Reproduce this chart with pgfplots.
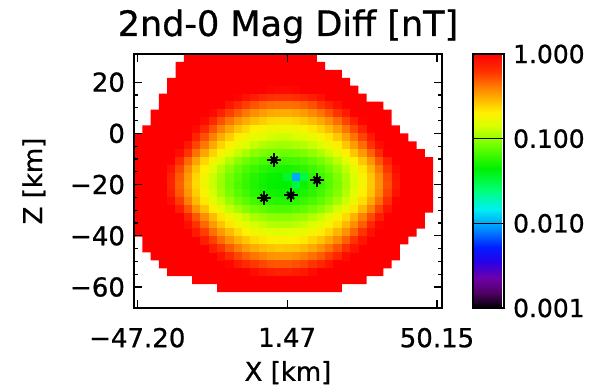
\documentclass[border=0pt]{standalone}
\usepackage{pgfplots}
\pgfplotsset{compat=1.18}
\usepackage{fontspec}
\setmainfont{DejaVu Sans}[FakeBold=0.8]
\pgfdeclareplotmark{cell}{\pgfpathrectangle{\pgfpoint{-2.16pt}{-2.07pt}}{\pgfpoint{4.32pt}{4.14pt}}\pgfusepathqfill}
\definecolor{idlred}{RGB}{255,0,0}
\begin{document}
\begin{tikzpicture}
\useasboundingbox (-67pt,-40.5pt) rectangle (236pt,154pt);
\begin{axis}[
 at={(0pt,0pt)}, anchor=south west,
 scale only axis, width=154pt, height=127pt,
 xmin=-48.27, xmax=51.77, ymin=-68.2, ymax=31,
 axis on top,
 xtick={-47.20,1.47,50.15}, xticklabels={−47.20,1.47,50.15},
 ytick={-60,-40,-20,0,20}, yticklabels={−60,−40,−20,0,20},
 minor y tick num=3, minor x tick num=0,
 tick align=inside,
 major tick length=4pt, minor tick length=2.2pt,
 tick style={black, line width=0.6pt},
 axis line style={black, line width=0.75pt},
 ticklabel style={font=\fontsize{13}{15}\selectfont},
 xticklabel style={yshift=-6.4pt},
 yticklabel style={xshift=-1pt},
 xlabel={X [km]}, ylabel={Z [km]},
 label style={font=\fontsize{13}{15}\selectfont},
 xlabel style={at={(axis description cs:0.5,0)}, anchor=north, yshift=-23pt},
 ylabel style={at={(axis description cs:-0.325,0.5)}, anchor=center},
 title={2nd-0 Mag Diff [nT]},
 title style={font=\fontsize{17.5}{20}\selectfont, at={(axis description cs:0.5,1)}, anchor=base, yshift=3pt},
 colormap={idl}{rgb255(0pt)=(0,0,0); rgb255(18pt)=(80,0,100); rgb255(36pt)=(110,0,170); rgb255(54pt)=(40,0,230); rgb255(72pt)=(0,30,255); rgb255(93pt)=(0,140,255); rgb255(117pt)=(0,240,240); rgb255(141pt)=(0,255,110); rgb255(165pt)=(0,240,0); rgb255(192pt)=(110,255,0); rgb255(216pt)=(220,255,0); rgb255(231pt)=(255,240,0); rgb255(255pt)=(255,150,0); rgb255(279pt)=(255,50,0); rgb255(300pt)=(255,0,0)},
 point meta min=-3, point meta max=0,
 colorbar,
 colorbar style={
   at={(parent axis.north east)}, anchor=north west, xshift=7pt,
   scale only axis, width=15.5pt, height=127pt,
   ytick={-3,-2,-1,0}, yticklabels={0.001,0.010,0.100,1.000},
   ytick pos=right, yticklabel pos=right,
   major tick length=15.5pt, tick align=inside,
   ytick style={black, line width=0.7pt},
   axis line style={black, line width=0.75pt},
   yticklabel style={font=\fontsize{12.5}{15}\selectfont, xshift=1pt},
   minor y tick num=0,
 },
]
% data extent (cells with value >= 1 nT, saturated red)
\addplot[fill=idlred, draw=none] coordinates {
(-32.07,31) (11.13,31) (11.13,27.9) (13.83,27.9) (13.83,24.8) (19.23,24.8) (19.23,21.7) (21.93,21.7) (21.93,18.6) (24.63,18.6) (24.63,15.5) (27.33,15.5) (27.33,12.4) (32.73,12.4) (32.73,9.3) (35.43,9.3) (35.43,3.1) (38.13,3.1) (38.13,0) (40.83,0) (40.83,-3.1) (43.53,-3.1) (43.53,-6.2) (46.23,-6.2) (46.23,-9.3) (48.93,-9.3) (48.93,-31) (46.23,-31) (46.23,-37.2) (43.53,-37.2) (43.53,-40.3) (40.83,-40.3) (40.83,-43.4) (38.13,-43.4) (38.13,-49.6) (35.43,-49.6) (35.43,-52.7) (32.73,-52.7) (32.73,-55.8) (27.33,-55.8) (27.33,-58.9) (19.23,-58.9) (19.23,-62) (-21.27,-62) (-21.27,-58.9) (-29.37,-58.9) (-29.37,-55.8) (-37.47,-55.8) (-37.47,-52.7) (-40.17,-52.7) (-40.17,-49.6) (-42.87,-49.6) (-42.87,-46.5) (-45.57,-46.5) (-45.57,-40.3) (-48.27,-40.3) (-48.27,0) (-45.57,0) (-45.57,3.1) (-42.87,3.1) (-42.87,9.3) (-40.17,9.3) (-40.17,15.5) (-37.47,15.5) (-37.47,21.7) (-34.77,21.7) (-34.77,27.9) (-32.07,27.9)
};
% cells below 1 nT: x z log10(diff)
\addplot[scatter, only marks, mark=cell, point meta=explicit, scatter/use mapped color={fill=mapped color, draw=mapped color}] table[meta=c, row sep=\\] {
x y c\\
-6.42 17.05 -0.01\\ -3.72 17.05 -0.03\\ -1.02 17.05 -0.04\\ 1.68 17.05 -0.04\\ 4.38 17.05 -0.03\\
-14.52 13.95 -0.02\\ -11.82 13.95 -0.08\\ -9.12 13.95 -0.13\\ -6.42 13.95 -0.17\\ -3.72 13.95 -0.20\\ -1.02 13.95 -0.21\\ 1.68 13.95 -0.21\\ 4.38 13.95 -0.19\\ 7.08 13.95 -0.16\\ 9.78 13.95 -0.12\\ 12.48 13.95 -0.07\\
-17.22 10.85 -0.09\\ -14.52 10.85 -0.17\\ -11.82 10.85 -0.24\\ -9.12 10.85 -0.29\\ -6.42 10.85 -0.33\\ -3.72 10.85 -0.35\\ -1.02 10.85 -0.36\\ 1.68 10.85 -0.36\\ 4.38 10.85 -0.35\\ 7.08 10.85 -0.32\\ 9.78 10.85 -0.28\\ 12.48 10.85 -0.22\\ 15.18 10.85 -0.15\\ 17.88 10.85 -0.07\\
-22.62 7.75 -0.04\\ -19.92 7.75 -0.14\\ -17.22 7.75 -0.24\\ -14.52 7.75 -0.31\\ -11.82 7.75 -0.38\\ -9.12 7.75 -0.43\\ -6.42 7.75 -0.47\\ -3.72 7.75 -0.50\\ -1.02 7.75 -0.51\\ 1.68 7.75 -0.51\\ 4.38 7.75 -0.49\\ 7.08 7.75 -0.46\\ 9.78 7.75 -0.42\\ 12.48 7.75 -0.37\\ 15.18 7.75 -0.30\\ 17.88 7.75 -0.21\\ 20.58 7.75 -0.12\\ 23.28 7.75 -0.01\\
-25.32 4.65 -0.05\\ -22.62 4.65 -0.17\\ -19.92 4.65 -0.28\\ -17.22 4.65 -0.37\\ -14.52 4.65 -0.45\\ -11.82 4.65 -0.51\\ -9.12 4.65 -0.56\\ -6.42 4.65 -0.60\\ -3.72 4.65 -0.63\\ -1.02 4.65 -0.64\\ 1.68 4.65 -0.64\\ 4.38 4.65 -0.62\\ 7.08 4.65 -0.59\\ 9.78 4.65 -0.55\\ 12.48 4.65 -0.50\\ 15.18 4.65 -0.43\\ 17.88 4.65 -0.35\\ 20.58 4.65 -0.25\\ 23.28 4.65 -0.14\\ 25.98 4.65 -0.02\\
-28.02 1.55 -0.04\\ -25.32 1.55 -0.17\\ -22.62 1.55 -0.29\\ -19.92 1.55 -0.40\\ -17.22 1.55 -0.49\\ -14.52 1.55 -0.57\\ -11.82 1.55 -0.63\\ -9.12 1.55 -0.69\\ -6.42 1.55 -0.72\\ -3.72 1.55 -0.75\\ -1.02 1.55 -0.76\\ 1.68 1.55 -0.76\\ 4.38 1.55 -0.74\\ 7.08 1.55 -0.72\\ 9.78 1.55 -0.67\\ 12.48 1.55 -0.62\\ 15.18 1.55 -0.55\\ 17.88 1.55 -0.47\\ 20.58 1.55 -0.37\\ 23.28 1.55 -0.26\\ 25.98 1.55 -0.14\\ 28.68 1.55 -0.01\\
-28.02 -1.55 -0.15\\ -25.32 -1.55 -0.28\\ -22.62 -1.55 -0.40\\ -19.92 -1.55 -0.51\\ -17.22 -1.55 -0.60\\ -14.52 -1.55 -0.68\\ -11.82 -1.55 -0.74\\ -9.12 -1.55 -0.79\\ -6.42 -1.55 -0.83\\ -3.72 -1.55 -0.86\\ -1.02 -1.55 -0.87\\ 1.68 -1.55 -0.87\\ 4.38 -1.55 -0.85\\ 7.08 -1.55 -0.83\\ 9.78 -1.55 -0.78\\ 12.48 -1.55 -0.73\\ 15.18 -1.55 -0.66\\ 17.88 -1.55 -0.58\\ 20.58 -1.55 -0.48\\ 23.28 -1.55 -0.37\\ 25.98 -1.55 -0.25\\ 28.68 -1.55 -0.11\\
-30.72 -4.65 -0.10\\ -28.02 -4.65 -0.25\\ -25.32 -4.65 -0.38\\ -22.62 -4.65 -0.50\\ -19.92 -4.65 -0.61\\ -17.22 -4.65 -0.70\\ -14.52 -4.65 -0.78\\ -11.82 -4.65 -0.84\\ -9.12 -4.65 -0.89\\ -6.42 -4.65 -0.93\\ -3.72 -4.65 -0.96\\ -1.02 -4.65 -0.97\\ 1.68 -4.65 -0.97\\ 4.38 -4.65 -0.95\\ 7.08 -4.65 -0.92\\ 9.78 -4.65 -0.88\\ 12.48 -4.65 -0.83\\ 15.18 -4.65 -0.76\\ 17.88 -4.65 -0.68\\ 20.58 -4.65 -0.58\\ 23.28 -4.65 -0.47\\ 25.98 -4.65 -0.35\\ 28.68 -4.65 -0.21\\ 31.38 -4.65 -0.06\\
-33.42 -7.75 -0.06\\ -30.72 -7.75 -0.21\\ -28.02 -7.75 -0.36\\ -25.32 -7.75 -0.49\\ -22.62 -7.75 -0.61\\ -19.92 -7.75 -0.72\\ -17.22 -7.75 -0.81\\ -14.52 -7.75 -0.89\\ -11.82 -7.75 -0.95\\ -9.12 -7.75 -1.01\\ -6.42 -7.75 -1.05\\ -3.72 -7.75 -1.07\\ -1.02 -7.75 -1.08\\ 1.68 -7.75 -1.08\\ 4.38 -7.75 -1.07\\ 7.08 -7.75 -1.04\\ 9.78 -7.75 -1.00\\ 12.48 -7.75 -0.94\\ 15.18 -7.75 -0.87\\ 17.88 -7.75 -0.79\\ 20.58 -7.75 -0.69\\ 23.28 -7.75 -0.58\\ 25.98 -7.75 -0.46\\ 28.68 -7.75 -0.33\\ 31.38 -7.75 -0.18\\ 34.08 -7.75 -0.01\\
-36.12 -10.85 -0.01\\ -33.42 -10.85 -0.18\\ -30.72 -10.85 -0.34\\ -28.02 -10.85 -0.48\\ -25.32 -10.85 -0.62\\ -22.62 -10.85 -0.74\\ -19.92 -10.85 -0.84\\ -17.22 -10.85 -0.93\\ -14.52 -10.85 -1.01\\ -11.82 -10.85 -1.08\\ -9.12 -10.85 -1.13\\ -6.42 -10.85 -1.17\\ -3.72 -10.85 -1.19\\ -1.02 -10.85 -1.20\\ 1.68 -10.85 -1.20\\ 4.38 -10.85 -1.19\\ 7.08 -10.85 -1.16\\ 9.78 -10.85 -1.12\\ 12.48 -10.85 -1.06\\ 15.18 -10.85 -0.99\\ 17.88 -10.85 -0.91\\ 20.58 -10.85 -0.82\\ 23.28 -10.85 -0.71\\ 25.98 -10.85 -0.58\\ 28.68 -10.85 -0.45\\ 31.38 -10.85 -0.30\\ 34.08 -10.85 -0.14\\
-36.12 -13.95 -0.09\\ -33.42 -13.95 -0.26\\ -30.72 -13.95 -0.42\\ -28.02 -13.95 -0.57\\ -25.32 -13.95 -0.70\\ -22.62 -13.95 -0.82\\ -19.92 -13.95 -0.93\\ -17.22 -13.95 -1.02\\ -14.52 -13.95 -1.10\\ -11.82 -13.95 -1.16\\ -9.12 -13.95 -1.21\\ -6.42 -13.95 -1.25\\ -3.72 -13.95 -1.28\\ -1.02 -13.95 -1.29\\ 1.68 -13.95 -1.29\\ 4.38 -13.95 -1.27\\ 7.08 -13.95 -1.24\\ 9.78 -13.95 -1.20\\ 12.48 -13.95 -1.15\\ 15.18 -13.95 -1.08\\ 17.88 -13.95 -1.00\\ 20.58 -13.95 -0.90\\ 23.28 -13.95 -0.79\\ 25.98 -13.95 -0.67\\ 28.68 -13.95 -0.53\\ 31.38 -13.95 -0.38\\ 34.08 -13.95 -0.22\\ 36.78 -13.95 -0.05\\
-36.12 -17.05 -0.14\\ -33.42 -17.05 -0.31\\ -30.72 -17.05 -0.47\\ -28.02 -17.05 -0.62\\ -25.32 -17.05 -0.75\\ -22.62 -17.05 -0.87\\ -19.92 -17.05 -0.97\\ -17.22 -17.05 -1.07\\ -14.52 -17.05 -1.14\\ -11.82 -17.05 -1.21\\ -9.12 -17.05 -1.26\\ -6.42 -17.05 -1.30\\ -3.72 -17.05 -1.33\\ -1.02 -17.05 -1.34\\ 1.68 -17.05 -1.45\\ 4.38 -17.05 -2.00\\ 7.08 -17.05 -1.50\\ 9.78 -17.05 -1.25\\ 12.48 -17.05 -1.20\\ 15.18 -17.05 -1.13\\ 17.88 -17.05 -1.04\\ 20.58 -17.05 -0.95\\ 23.28 -17.05 -0.84\\ 25.98 -17.05 -0.72\\ 28.68 -17.05 -0.58\\ 31.38 -17.05 -0.43\\ 34.08 -17.05 -0.27\\ 36.78 -17.05 -0.09\\
-36.12 -20.15 -0.15\\ -33.42 -20.15 -0.32\\ -30.72 -20.15 -0.48\\ -28.02 -20.15 -0.63\\ -25.32 -20.15 -0.76\\ -22.62 -20.15 -0.88\\ -19.92 -20.15 -0.98\\ -17.22 -20.15 -1.08\\ -14.52 -20.15 -1.16\\ -11.82 -20.15 -1.22\\ -9.12 -20.15 -1.27\\ -6.42 -20.15 -1.31\\ -3.72 -20.15 -1.34\\ -1.02 -20.15 -1.35\\ 1.68 -20.15 -1.35\\ 4.38 -20.15 -1.48\\ 7.08 -20.15 -1.32\\ 9.78 -20.15 -1.26\\ 12.48 -20.15 -1.21\\ 15.18 -20.15 -1.14\\ 17.88 -20.15 -1.06\\ 20.58 -20.15 -0.96\\ 23.28 -20.15 -0.85\\ 25.98 -20.15 -0.73\\ 28.68 -20.15 -0.59\\ 31.38 -20.15 -0.44\\ 34.08 -20.15 -0.28\\ 36.78 -20.15 -0.10\\
-36.12 -23.25 -0.12\\ -33.42 -23.25 -0.30\\ -30.72 -23.25 -0.45\\ -28.02 -23.25 -0.60\\ -25.32 -23.25 -0.73\\ -22.62 -23.25 -0.85\\ -19.92 -23.25 -0.96\\ -17.22 -23.25 -1.05\\ -14.52 -23.25 -1.13\\ -11.82 -23.25 -1.19\\ -9.12 -23.25 -1.25\\ -6.42 -23.25 -1.29\\ -3.72 -23.25 -1.31\\ -1.02 -23.25 -1.32\\ 1.68 -23.25 -1.32\\ 4.38 -23.25 -1.31\\ 7.08 -23.25 -1.28\\ 9.78 -23.25 -1.24\\ 12.48 -23.25 -1.18\\ 15.18 -23.25 -1.11\\ 17.88 -23.25 -1.03\\ 20.58 -23.25 -0.93\\ 23.28 -23.25 -0.82\\ 25.98 -23.25 -0.70\\ 28.68 -23.25 -0.57\\ 31.38 -23.25 -0.42\\ 34.08 -23.25 -0.25\\ 36.78 -23.25 -0.08\\
-36.12 -26.35 -0.06\\ -33.42 -26.35 -0.23\\ -30.72 -26.35 -0.39\\ -28.02 -26.35 -0.54\\ -25.32 -26.35 -0.67\\ -22.62 -26.35 -0.79\\ -19.92 -26.35 -0.89\\ -17.22 -26.35 -0.99\\ -14.52 -26.35 -1.07\\ -11.82 -26.35 -1.13\\ -9.12 -26.35 -1.18\\ -6.42 -26.35 -1.22\\ -3.72 -26.35 -1.25\\ -1.02 -26.35 -1.26\\ 1.68 -26.35 -1.26\\ 4.38 -26.35 -1.24\\ 7.08 -26.35 -1.21\\ 9.78 -26.35 -1.17\\ 12.48 -26.35 -1.12\\ 15.18 -26.35 -1.05\\ 17.88 -26.35 -0.97\\ 20.58 -26.35 -0.87\\ 23.28 -26.35 -0.76\\ 25.98 -26.35 -0.64\\ 28.68 -26.35 -0.50\\ 31.38 -26.35 -0.35\\ 34.08 -26.35 -0.19\\ 36.78 -26.35 -0.01\\
-33.42 -29.45 -0.13\\ -30.72 -29.45 -0.29\\ -28.02 -29.45 -0.44\\ -25.32 -29.45 -0.57\\ -22.62 -29.45 -0.69\\ -19.92 -29.45 -0.79\\ -17.22 -29.45 -0.89\\ -14.52 -29.45 -0.96\\ -11.82 -29.45 -1.03\\ -9.12 -29.45 -1.08\\ -6.42 -29.45 -1.12\\ -3.72 -29.45 -1.15\\ -1.02 -29.45 -1.16\\ 1.68 -29.45 -1.16\\ 4.38 -29.45 -1.14\\ 7.08 -29.45 -1.11\\ 9.78 -29.45 -1.07\\ 12.48 -29.45 -1.02\\ 15.18 -29.45 -0.95\\ 17.88 -29.45 -0.86\\ 20.58 -29.45 -0.77\\ 23.28 -29.45 -0.66\\ 25.98 -29.45 -0.54\\ 28.68 -29.45 -0.40\\ 31.38 -29.45 -0.25\\ 34.08 -29.45 -0.09\\
-30.72 -32.55 -0.15\\ -28.02 -32.55 -0.30\\ -25.32 -32.55 -0.43\\ -22.62 -32.55 -0.55\\ -19.92 -32.55 -0.66\\ -17.22 -32.55 -0.75\\ -14.52 -32.55 -0.83\\ -11.82 -32.55 -0.89\\ -9.12 -32.55 -0.95\\ -6.42 -32.55 -0.98\\ -3.72 -32.55 -1.01\\ -1.02 -32.55 -1.02\\ 1.68 -32.55 -1.02\\ 4.38 -32.55 -1.00\\ 7.08 -32.55 -0.98\\ 9.78 -32.55 -0.93\\ 12.48 -32.55 -0.88\\ 15.18 -32.55 -0.81\\ 17.88 -32.55 -0.73\\ 20.58 -32.55 -0.63\\ 23.28 -32.55 -0.52\\ 25.98 -32.55 -0.40\\ 28.68 -32.55 -0.27\\ 31.38 -32.55 -0.12\\
-30.72 -35.65 -0.06\\ -28.02 -35.65 -0.21\\ -25.32 -35.65 -0.34\\ -22.62 -35.65 -0.46\\ -19.92 -35.65 -0.57\\ -17.22 -35.65 -0.66\\ -14.52 -35.65 -0.74\\ -11.82 -35.65 -0.80\\ -9.12 -35.65 -0.85\\ -6.42 -35.65 -0.89\\ -3.72 -35.65 -0.92\\ -1.02 -35.65 -0.93\\ 1.68 -35.65 -0.93\\ 4.38 -35.65 -0.91\\ 7.08 -35.65 -0.88\\ 9.78 -35.65 -0.84\\ 12.48 -35.65 -0.79\\ 15.18 -35.65 -0.72\\ 17.88 -35.65 -0.64\\ 20.58 -35.65 -0.54\\ 23.28 -35.65 -0.43\\ 25.98 -35.65 -0.31\\ 28.68 -35.65 -0.17\\ 31.38 -35.65 -0.02\\
-28.02 -38.75 -0.11\\ -25.32 -38.75 -0.24\\ -22.62 -38.75 -0.36\\ -19.92 -38.75 -0.46\\ -17.22 -38.75 -0.55\\ -14.52 -38.75 -0.63\\ -11.82 -38.75 -0.70\\ -9.12 -38.75 -0.75\\ -6.42 -38.75 -0.79\\ -3.72 -38.75 -0.81\\ -1.02 -38.75 -0.83\\ 1.68 -38.75 -0.82\\ 4.38 -38.75 -0.81\\ 7.08 -38.75 -0.78\\ 9.78 -38.75 -0.74\\ 12.48 -38.75 -0.68\\ 15.18 -38.75 -0.62\\ 17.88 -38.75 -0.53\\ 20.58 -38.75 -0.44\\ 23.28 -38.75 -0.33\\ 25.98 -38.75 -0.21\\ 28.68 -38.75 -0.07\\
-25.32 -41.85 -0.12\\ -22.62 -41.85 -0.24\\ -19.92 -41.85 -0.35\\ -17.22 -41.85 -0.44\\ -14.52 -41.85 -0.52\\ -11.82 -41.85 -0.58\\ -9.12 -41.85 -0.64\\ -6.42 -41.85 -0.67\\ -3.72 -41.85 -0.70\\ -1.02 -41.85 -0.71\\ 1.68 -41.85 -0.71\\ 4.38 -41.85 -0.69\\ 7.08 -41.85 -0.67\\ 9.78 -41.85 -0.62\\ 12.48 -41.85 -0.57\\ 15.18 -41.85 -0.50\\ 17.88 -41.85 -0.42\\ 20.58 -41.85 -0.32\\ 23.28 -41.85 -0.21\\ 25.98 -41.85 -0.09\\
-22.62 -44.95 -0.12\\ -19.92 -44.95 -0.22\\ -17.22 -44.95 -0.31\\ -14.52 -44.95 -0.39\\ -11.82 -44.95 -0.46\\ -9.12 -44.95 -0.51\\ -6.42 -44.95 -0.55\\ -3.72 -44.95 -0.57\\ -1.02 -44.95 -0.59\\ 1.68 -44.95 -0.58\\ 4.38 -44.95 -0.57\\ 7.08 -44.95 -0.54\\ 9.78 -44.95 -0.50\\ 12.48 -44.95 -0.44\\ 15.18 -44.95 -0.37\\ 17.88 -44.95 -0.29\\ 20.58 -44.95 -0.20\\ 23.28 -44.95 -0.09\\
-19.92 -48.05 -0.08\\ -17.22 -48.05 -0.18\\ -14.52 -48.05 -0.26\\ -11.82 -48.05 -0.32\\ -9.12 -48.05 -0.37\\ -6.42 -48.05 -0.41\\ -3.72 -48.05 -0.44\\ -1.02 -48.05 -0.45\\ 1.68 -48.05 -0.45\\ 4.38 -48.05 -0.43\\ 7.08 -48.05 -0.40\\ 9.78 -48.05 -0.36\\ 12.48 -48.05 -0.31\\ 15.18 -48.05 -0.24\\ 17.88 -48.05 -0.16\\ 20.58 -48.05 -0.06\\
-17.22 -51.15 -0.03\\ -14.52 -51.15 -0.11\\ -11.82 -51.15 -0.17\\ -9.12 -51.15 -0.22\\ -6.42 -51.15 -0.26\\ -3.72 -51.15 -0.29\\ -1.02 -51.15 -0.30\\ 1.68 -51.15 -0.30\\ 4.38 -51.15 -0.28\\ 7.08 -51.15 -0.26\\ 9.78 -51.15 -0.21\\ 12.48 -51.15 -0.16\\ 15.18 -51.15 -0.09\\ 17.88 -51.15 -0.01\\
-11.82 -54.25 -0.01\\ -9.12 -54.25 -0.06\\ -6.42 -54.25 -0.10\\ -3.72 -54.25 -0.13\\ -1.02 -54.25 -0.14\\ 1.68 -54.25 -0.14\\ 4.38 -54.25 -0.12\\ 7.08 -54.25 -0.10\\ 9.78 -54.25 -0.05\\
};
% stations
\addplot[only marks, mark=+, mark size=3.5pt, black, line width=1pt] coordinates {(-2.75,-10.45) (11.2,-18.3) (-6.0,-25.2) (2.6,-24.2)};
\addplot[only marks, mark=x, mark size=2.5pt, black, line width=1pt] coordinates {(-2.75,-10.45) (11.2,-18.3) (-6.0,-25.2) (2.6,-24.2)};
\addplot[only marks, mark=*, mark size=1.4pt, black] coordinates {(-2.75,-10.45) (11.2,-18.3) (-6.0,-25.2) (2.6,-24.2)};
\end{axis}
\end{tikzpicture}
\end{document}
